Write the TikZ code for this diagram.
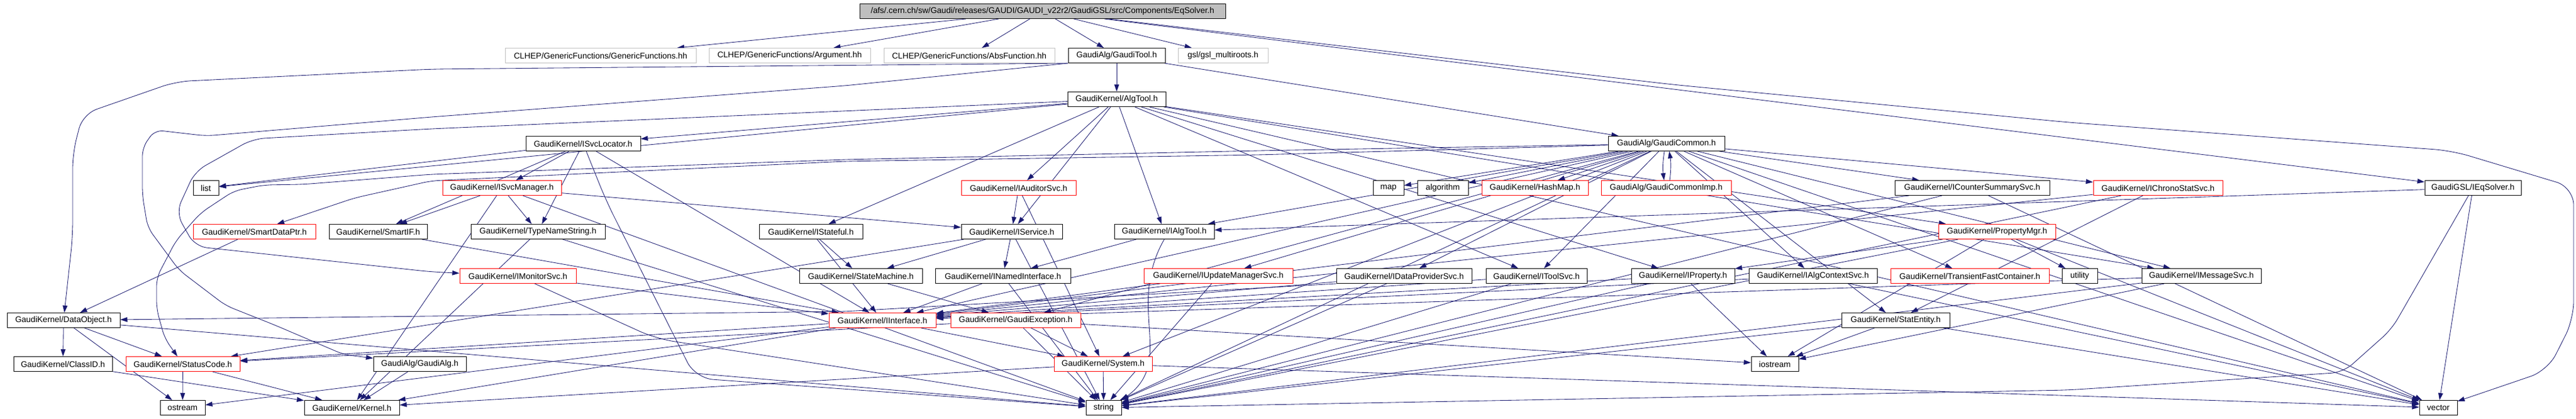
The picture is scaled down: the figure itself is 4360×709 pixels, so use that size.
\documentclass[tikz,border=0pt]{standalone}
\usepackage{fontspec}
\setmainfont{Liberation Sans}
\usetikzlibrary{arrows.meta,calc}
\definecolor{edgec}{HTML}{191970}
\definecolor{grayb}{HTML}{BFBFBF}
\pgfdeclarelayer{bg}
\pgfsetlayers{bg,main}
\newcommand{\mknode}[6]{\node[#5, minimum width={(#3)-(#2)}] (#1) at ({((#2)+(#3))/2},#4) {#6};}
\begin{document}
\begin{tikzpicture}[x=1pt,y=-1pt,
  box/.style={draw=black, fill=white, line width=1pt, minimum height=25pt, inner sep=0pt, font=\fontsize{14}{16}\selectfont, anchor=center},
  rbox/.style={box, draw=red},
  gbox/.style={box, draw=grayb},
  rootbox/.style={box, fill=grayb},
  e/.style={draw=edgec, line width=0.85pt, -{Triangle[length=12pt,width=8pt]}},
]
\useasboundingbox (0,0) rectangle (4360,709);
\mknode{root}{1455}{2074}{19}{rootbox}{/afs/.cern.ch/sw/Gaudi/releases/GAUDI/GAUDI\_v22r2/GaudiGSL/src/Components/EqSolver.h}
\mknode{genfun}{855}{1178}{94}{gbox}{CLHEP/GenericFunctions/GenericFunctions.hh}
\mknode{arg}{1200}{1473}{94}{gbox}{CLHEP/GenericFunctions/Argument.hh}
\mknode{absfun}{1496}{1785}{94}{gbox}{CLHEP/GenericFunctions/AbsFunction.hh}
\mknode{gtool}{1808}{1972}{94}{box}{GaudiAlg/GaudiTool.h}
\mknode{gsl}{1994}{2146}{94}{gbox}{gsl/gsl\_multiroots.h}
\mknode{algtool}{1807}{1973}{168}{box}{GaudiKernel/AlgTool.h}
\mknode{isvcloc}{890}{1084}{243}{box}{GaudiKernel/ISvcLocator.h}
\mknode{gcommon}{2722}{2919}{243}{box}{GaudiAlg/GaudiCommon.h}
\mknode{list}{327}{370}{318}{box}{list}
\mknode{isvcman}{749}{950}{318}{rbox}{GaudiKernel/ISvcManager.h}
\mknode{iaudit}{1627}{1821}{318}{rbox}{GaudiKernel/IAuditorSvc.h}
\mknode{map}{2324}{2376}{318}{box}{map}
\mknode{algorithm}{2399}{2485}{318}{box}{algorithm}
\mknode{hashmap}{2508}{2688}{318}{rbox}{GaudiKernel/HashMap.h}
\mknode{gcimp}{2710}{2930}{318}{rbox}{GaudiAlg/GaudiCommonImp.h}
\mknode{icounter}{3207}{3469}{318}{box}{GaudiKernel/ICounterSummarySvc.h}
\mknode{ichrono}{3543}{3762}{318}{rbox}{GaudiKernel/IChronoStatSvc.h}
\mknode{ieqsolver}{4104}{4267}{318}{box}{GaudiGSL/IEqSolver.h}
\mknode{smartdp}{327}{534}{392}{rbox}{GaudiKernel/SmartDataPtr.h}
\mknode{smartif}{557}{723}{392}{box}{GaudiKernel/SmartIF.h}
\mknode{typename}{797}{1024}{392}{box}{GaudiKernel/TypeNameString.h}
\mknode{istateful}{1285}{1460}{392}{box}{GaudiKernel/IStateful.h}
\mknode{iservice}{1627}{1798}{392}{box}{GaudiKernel/IService.h}
\mknode{ialgtool}{1886}{2055}{392}{box}{GaudiKernel/IAlgTool.h}
\mknode{propmgr}{3281}{3479}{392}{rbox}{GaudiKernel/PropertyMgr.h}
\mknode{imonitor}{778}{975}{467}{rbox}{GaudiKernel/IMonitorSvc.h}
\mknode{statemachine}{1353}{1561}{467}{box}{GaudiKernel/StateMachine.h}
\mknode{inamed}{1583}{1812}{467}{box}{GaudiKernel/INamedInterface.h}
\mknode{iupdate}{1936}{2188}{467}{rbox}{GaudiKernel/IUpdateManagerSvc.h}
\mknode{idataprov}{2262}{2491}{467}{box}{GaudiKernel/IDataProviderSvc.h}
\mknode{itoolsvc}{2515}{2686}{467}{box}{GaudiKernel/IToolSvc.h}
\mknode{iproperty}{2761}{2936}{467}{box}{GaudiKernel/IProperty.h}
\mknode{ialgctx}{2960}{3177}{467}{box}{GaudiKernel/IAlgContextSvc.h}
\mknode{transient}{3200}{3468}{467}{rbox}{GaudiKernel/TransientFastContainer.h}
\mknode{utility}{3490}{3550}{467}{box}{utility}
\mknode{imessage}{3625}{3827}{467}{box}{GaudiKernel/IMessageSvc.h}
\mknode{dataobject}{12}{203}{542}{box}{GaudiKernel/DataObject.h}
\mknode{iinterface}{1403}{1584}{542}{rbox}{GaudiKernel/IInterface.h}
\mknode{gexception}{1609}{1829}{542}{rbox}{GaudiKernel/GaudiException.h}
\mknode{statentity}{3117}{3300}{542}{box}{GaudiKernel/StatEntity.h}
\mknode{classid}{23}{190}{616}{box}{GaudiKernel/ClassID.h}
\mknode{statuscode}{213}{406}{616}{rbox}{GaudiKernel/StatusCode.h}
\mknode{gaudialg}{632}{789}{616}{box}{GaudiAlg/GaudiAlg.h}
\mknode{system}{1784}{1950}{616}{rbox}{GaudiKernel/System.h}
\mknode{iostream}{2964}{3044}{616}{box}{iostream}
\mknode{ostream}{271}{347}{690}{box}{ostream}
\mknode{kernel}{515}{676}{690}{box}{GaudiKernel/Kernel.h}
\mknode{string}{1838}{1898}{690}{box}{string}
\mknode{vector}{4095}{4159}{690}{box}{vector}
\begin{pgfonlayer}{bg}
\fill[white] (0,0) rectangle (4360,709);
\foreach \a/\b in {root/genfun, root/arg, root/absfun, root/gtool, root/gsl, root/ieqsolver,
  gtool/algtool, gtool/gcommon,
  algtool/isvcloc, algtool/list, algtool/iaudit, algtool/iservice, algtool/ialgtool, algtool/istateful,
  algtool/itoolsvc, algtool/iproperty, algtool/propmgr, algtool/imessage, algtool/vector,
  gcommon/map, gcommon/algorithm, gcommon/hashmap, gcommon/icounter, gcommon/ichrono,
  gcommon/idataprov, gcommon/itoolsvc, gcommon/iupdate, gcommon/ialgctx, gcommon/transient,
  gcommon/statentity, gcommon/imessage, gcommon/ialgtool, gcommon/system, gcommon/gexception,
  gcommon/string, gcommon/vector, gcommon/iinterface,
  isvcloc/list, isvcloc/isvcman, isvcloc/smartif, isvcloc/typename, isvcloc/iinterface,
  isvcman/smartif, isvcman/typename, isvcman/iservice, isvcman/kernel, isvcman/string,
  iaudit/iservice, iaudit/system,
  iservice/inamed, iservice/statemachine, iservice/statuscode, iservice/string,
  ialgtool/inamed,
  istateful/statemachine, istateful/iinterface,
  statemachine/gexception,
  inamed/iinterface, inamed/string,
  iinterface/system, iinterface/statuscode, iinterface/kernel, iinterface/ostream,
  gexception/system, gexception/string, gexception/statuscode, gexception/iostream,
  system/kernel, system/string, system/vector,
  statuscode/ostream, statuscode/kernel,
  dataobject/classid, dataobject/statuscode, dataobject/ostream, dataobject/string,
  classid/kernel, smartdp/dataobject, gaudialg/kernel,
  imonitor/iinterface,
  typename/string, typename/kernel,
  smartif/iinterface,
  iupdate/iinterface, iupdate/string,
  idataprov/iinterface, idataprov/string,
  itoolsvc/iinterface, itoolsvc/string,
  iproperty/iinterface, iproperty/iostream, iproperty/string,
  ialgctx/iinterface, ialgctx/vector,
  propmgr/iproperty, propmgr/utility, propmgr/vector, propmgr/string, propmgr/iostream,
  imessage/iinterface, imessage/string, imessage/iostream,
  icounter/iinterface, icounter/string, icounter/vector,
  ichrono/iinterface, ichrono/statentity, ichrono/string,
  statentity/iostream, statentity/string, statentity/vector,
  ieqsolver/ialgtool, ieqsolver/vector}
  \draw[e] (\a) -- (\b);
\draw[e] (gcommon.255) to[bend right=8] (gcimp.105);
\draw[e] (gcimp.65) to[bend right=8] (gcommon.290);
\draw[e] (ialgtool.south) .. controls (1905,520) and (1990,610) .. (string.north east);
\draw[e, rounded corners=30pt] (isvcloc) -- (1026,340) -- (1177,640) -- (string);
\draw[e, rounded corners=30pt] (imonitor) -- (1110,573) -- (string);
\draw[e, rounded corners=30pt] (root) -- (2830,143) -- (3500,207) -- (4150,255) -- (4356,317) -- (4356,540) -- (4312,627) -- (vector);
\draw[e, rounded corners=25pt] (gtool.south west) -- (730,117) -- (298,138) -- (140,193) -- (123,260) -- (123,400) -- (dataobject);
\draw[e, rounded corners=14pt] (gtool.south west) -- (1430,145) -- (730,198) -- (349,230) -- (262,220) -- (241,250) -- (241,330) -- (250,385) -- (303,457) -- (382,517) -- (465,550) -- (582,600) -- (gaudialg);
\draw[e, rounded corners=20pt] (algtool) -- (730,218) -- (428,235) -- (330,290) -- (298,360) -- (330,417) -- (730,460) -- (imonitor);
\draw[e, rounded corners=14pt] (gcommon) -- (2130,255) -- (1430,270) -- (730,295) -- (512,312) -- (447,313) -- (396,323) -- (340,360) -- (298,407) -- (265,470) -- (265,523) -- (279,573) -- (statuscode);
\draw[e, rounded corners=14pt] (gcommon) -- (2130,262) -- (1430,273) -- (730,306) -- (600,335) -- (smartdp);
\draw[e, rounded corners=14pt] (idataprov.south west) -- (1430,527) -- (dataobject);
\draw[e, rounded corners=20pt] (ieqsolver) -- (4048,557) -- (3966,630) -- (3500,660) -- (string);
\end{pgfonlayer}
\end{tikzpicture}
\end{document}
